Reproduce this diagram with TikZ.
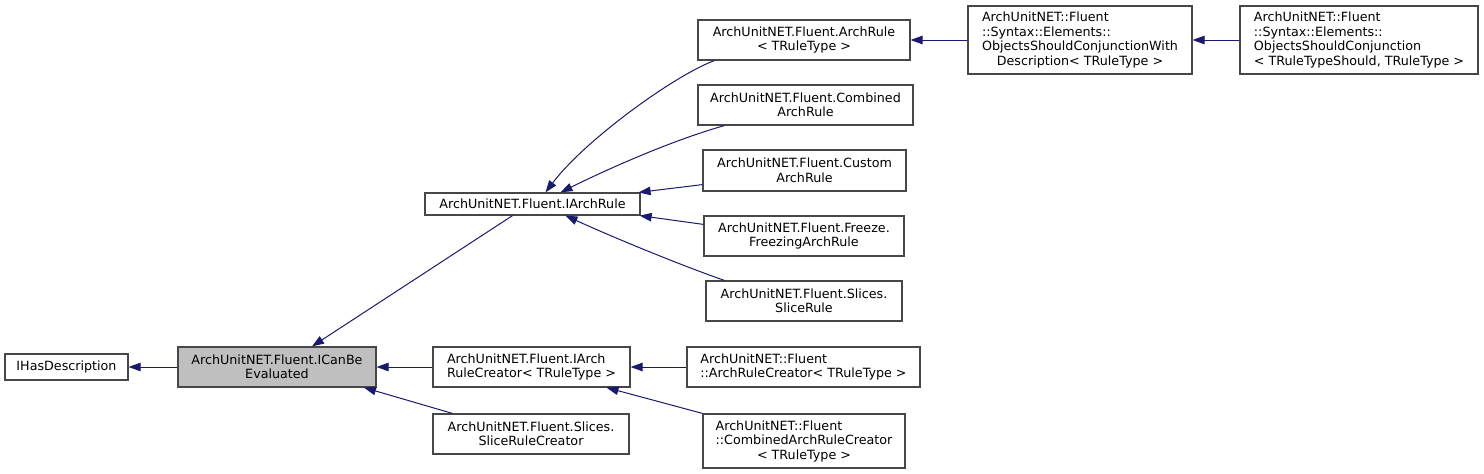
\documentclass[tikz,border=0pt]{standalone}
\usepackage{fontspec}
\usepackage{calc}
\usetikzlibrary{arrows.meta}
\newfontfamily\dejavu{DejaVu Sans}
\definecolor{edgeblue}{RGB}{25,25,112}
\definecolor{boxgray}{RGB}{191,191,191}
\newcommand{\lpad}[2]{\makebox[\widthof{#1}][l]{#2}}

\begin{document}
\begin{tikzpicture}[x=1pt, y=-1pt,
        cls/.style={draw=black!72, fill=white, line width=1.2pt, inner sep=1pt,
            font=\dejavu\fontsize{12.7}{14.5}\selectfont, align=center},
        inh/.style={draw=edgeblue, line width=1pt, -{Triangle[length=12pt, width=8.5pt]}}]
            \useasboundingbox (0,0) rectangle (1484,474);

            \node[cls, minimum width=123, minimum height=26] (hasdesc) at (66.5,367) {IHasDescription};
            \node[cls, fill=boxgray, minimum width=198, minimum height=40] (canbe) at (277,367) {ArchUnitNET.Fluent.ICanBe\\Evaluated};
            \node[cls, minimum width=215, minimum height=22] (iarch) at (532.5,204) {ArchUnitNET.Fluent.IArchRule};
            \node[cls, minimum width=197, minimum height=40, align=left] (icreator) at (531.5,367) {ArchUnitNET.Fluent.IArch\\RuleCreator< TRuleType >};
            \node[cls, minimum width=196, minimum height=40] (slicecr) at (531,434) {ArchUnitNET.Fluent.Slices.\\SliceRuleCreator};
            \node[cls, minimum width=212, minimum height=40] (archrule) at (804,40) {ArchUnitNET.Fluent.ArchRule\\< TRuleType >};
            \node[cls, minimum width=215, minimum height=40] (combined) at (805.5,105) {ArchUnitNET.Fluent.Combined\\ArchRule};
            \node[cls, minimum width=203, minimum height=41] (custom) at (804.5,170.5) {ArchUnitNET.Fluent.Custom\\ArchRule};
            \node[cls, minimum width=200, minimum height=40] (freezing) at (804,236) {ArchUnitNET.Fluent.Freeze.\\FreezingArchRule};
            \node[cls, minimum width=196, minimum height=40] (slicerule) at (804,301) {ArchUnitNET.Fluent.Slices.\\SliceRule};
            \node[cls, minimum width=224, minimum height=68] (conjdesc) at (1080,40) {\lpad{ObjectsShouldConjunctionWith}{ArchUnitNET::Fluent}\\\lpad{ObjectsShouldConjunctionWith}{::Syntax::Elements::}\\ObjectsShouldConjunctionWith\\Description< TRuleType >};
            \node[cls, minimum width=238, minimum height=68, align=left] (conj) at (1359,40) {ArchUnitNET::Fluent\\::Syntax::Elements::\\ObjectsShouldConjunction\\< TRuleTypeShould, TRuleType >};
            \node[cls, minimum width=233, minimum height=40, align=left] (creator) at (803.5,367) {ArchUnitNET::Fluent\\::ArchRuleCreator< TRuleType >};
            \node[cls, minimum width=202, minimum height=54] (combcreator) at (804,441) {\lpad{::CombinedArchRuleCreator}{ArchUnitNET::Fluent}\\::CombinedArchRuleCreator\\< TRuleType >};

            \draw[inh] (canbe.west) -- (hasdesc.east);
            \draw[inh] ([xshift=-20]iarch.south) -- ([xshift=35]canbe.north);
            \draw[inh] (icreator.west) -- (canbe.east);
            \draw[inh] ([xshift=20]slicecr.north west) -- ([xshift=87]canbe.south);
            \draw[inh] ([xshift=17]archrule.south west) .. controls (675,75) and (585,140) .. ([xshift=13]iarch.north);
            \draw[inh] ([xshift=27]combined.south west) .. controls (680,138) and (620,163) .. ([xshift=28]iarch.north);
            \draw[inh] ([yshift=7]custom.south west) -- ([xshift=-2]iarch.north east);
            \draw[inh] ([yshift=-9]freezing.north west) -- ([xshift=-1]iarch.south east);
            \draw[inh] ([xshift=19]slicerule.north west) .. controls (680,265) and (610,236) .. ([xshift=33]iarch.south);
            \draw[inh] (conjdesc.west) -- (archrule.east);
            \draw[inh] (conj.west) -- (conjdesc.east);
            \draw[inh] (creator.west) -- (icreator.east);
            \draw[inh] (combcreator.north west) -- ([xshift=75]icreator.south);
        \end{tikzpicture}
\end{document}
